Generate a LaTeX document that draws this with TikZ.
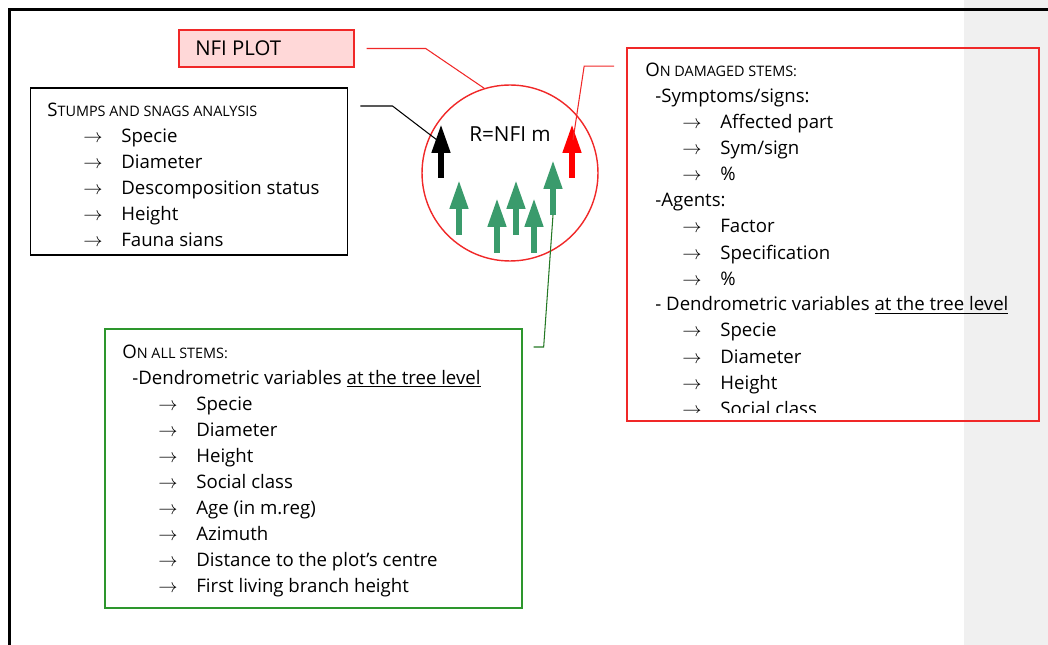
\documentclass[tikz,border=0pt]{standalone}
\usepackage{fontspec}
\setmainfont{Open Sans}
\usetikzlibrary{arrows.meta}

\definecolor{plotred}{RGB}{240,40,40}
\definecolor{plotpink}{RGB}{255,216,216}
\definecolor{boxgreen}{RGB}{45,150,45}
\definecolor{treegreen}{RGB}{58,155,108}
\definecolor{sidegrey}{RGB}{240,240,240}

\newcommand{\itm}[1]{\makebox[0.76cm][l]{$\rightarrow$}#1}
\newcommand{\fakesc}[2]{#1{\fontsize{8.2}{9}\selectfont\MakeUppercase{#2}}}

\begin{document}
\begin{tikzpicture}[x=0.02cm, y=-0.02cm,
	every node/.style={font=\fontsize{10.6}{12}\selectfont},
	txt/.style={anchor=base west, inner sep=0pt},
	box/.style={draw, line width=0.8pt, inner sep=0pt},
	tree/.style={line width=3.4pt, -{Triangle[width=0.35cm, length=0.58cm]}},
	link/.style={line width=0.6pt}]

	\useasboundingbox (0,0) rectangle (1048,645);
	\fill[sidegrey] (964,0) rectangle (1048,645);
	\draw[line width=1.7pt] (9.5,645) -- (9.5,9.5) -- (1048,9.5);

	% boxes
	\node[box, draw=plotred, fill=plotpink, minimum width=3.5cm, minimum height=0.74cm] (nfi) at (266.5,48.5) {};
	\node[txt, font=\fontsize{11.6}{12}\selectfont] (nfitext) at (195,56) {NFI PLOT};
	\node[box, draw=black, line width=0.6pt, minimum width=6.36cm, minimum height=3.34cm] (stumps) at (189,171.5) {};
	\node[box, draw=plotred, line width=1pt, minimum width=8.24cm, minimum height=7.46cm] (damaged) at (833,234.5) {};
	\node[box, draw=boxgreen, minimum width=8.34cm, minimum height=5.58cm] (allstems) at (313.5,468.5) {};

	% plot
	\node[circle, draw=plotred, line width=0.8pt, minimum size=3.52cm, inner sep=0pt] (plot) at (510,173) {};
	\node[font=\fontsize{11.8}{12}\selectfont] (radius) at (510,134) {R=NFI m};

	\coordinate (blackfoot) at (441,178);
	\coordinate (redfoot) at (572,178);
	\coordinate (foot1) at (459,235);
	\coordinate (foot2) at (497,253);
	\coordinate (foot3) at (516,235);
	\coordinate (foot4) at (534,253);
	\coordinate (foot5) at (553,215);

	\draw[tree, black] (blackfoot) -- ++(0,-54);
	\draw[tree, red] (redfoot) -- ++(0,-54);
	\draw[tree, treegreen] (foot1) -- ++(0,-55);
	\draw[tree, treegreen] (foot2) -- ++(0,-55);
	\draw[tree, treegreen] (foot3) -- ++(0,-55);
	\draw[tree, treegreen] (foot4) -- ++(0,-55);
	\draw[tree, treegreen] (foot5) -- ++(0,-55);

	% links
	\draw[link, plotred, shorten <=0.24cm] (nfi.east) -- ++(71,0) -- (plot.107);
	\draw[link] ([shift={(12,-65.5)}]stumps.east) -- ++(32,0) -- ([shift={(-4,-38)}]blackfoot);
	\draw[link, plotred] ([shift={(-12,19)}]damaged.north west) -- ++(-30,0) -- ([shift={(1,-38)}]redfoot);
	\draw[link, boxgreen!80!black] (foot5) -- ([shift={(21,-121.5)}]allstems.east) -- ++(-10,0);

	% stumps and snags
	\node[txt] (sthead) at (47,117) {\fakesc{S}{tumps and snags analysis}};
	\node[txt] (st1) at (83,143) {\itm{Specie}};
	\node[txt] (st2) at (83,169) {\itm{Diameter}};
	\node[txt] (st3) at (83,195) {\itm{Descomposition status}};
	\node[txt] (st4) at (83,221) {\itm{Height}};
	\node[txt] (st5) at (83,247) {\itm{Fauna sians}};

	% damaged stems
	\begin{scope}
		\clip (damaged.north west) rectangle ([shift={(0,-9)}]damaged.south east);
		\node[txt] (dmhead) at (645,77) {\fakesc{O}{n damaged stems:}};
		\node[txt] (dmsym) at (655,103) {-Symptoms/signs:};
		\node[txt] (dm1) at (682,129) {\itm{Affected part}};
		\node[txt] (dm2) at (682,155) {\itm{Sym/sign}};
		\node[txt] (dm3) at (682,181) {\itm{\%}};
		\node[txt] (dmag) at (655,207) {-Agents:};
		\node[txt] (dm4) at (682,233) {\itm{Factor}};
		\node[txt] (dm5) at (682,259) {\itm{Specification}};
		\node[txt] (dm6) at (682,285) {\itm{\%}};
		\node[txt] (dmden) at (655,311) {- Dendrometric variables \underline{at the tree level}};
		\node[txt] (dm7) at (682,337) {\itm{Specie}};
		\node[txt] (dm8) at (682,363) {\itm{Diameter}};
		\node[txt] (dm9) at (682,389) {\itm{Height}};
		\node[txt] (dm10) at (682,415) {\itm{Social class}};
	\end{scope}

	% all stems
	\node[txt] (alhead) at (122,358) {\fakesc{O}{n all stems:}};
	\node[txt] (alden) at (132,384) {-Dendrometric variables \underline{at the tree level}};
	\node[txt] (al1) at (158,410) {\itm{Specie}};
	\node[txt] (al2) at (158,436) {\itm{Diameter}};
	\node[txt] (al3) at (158,462) {\itm{Height}};
	\node[txt] (al4) at (158,488) {\itm{Social class}};
	\node[txt] (al5) at (158,514) {\itm{Age (in m.reg)}};
	\node[txt] (al6) at (158,540) {\itm{Azimuth}};
	\node[txt] (al7) at (158,566) {\itm{Distance to the plot’s centre}};
	\node[txt] (al8) at (158,592) {\itm{First living branch height}};
\end{tikzpicture}
\end{document}
